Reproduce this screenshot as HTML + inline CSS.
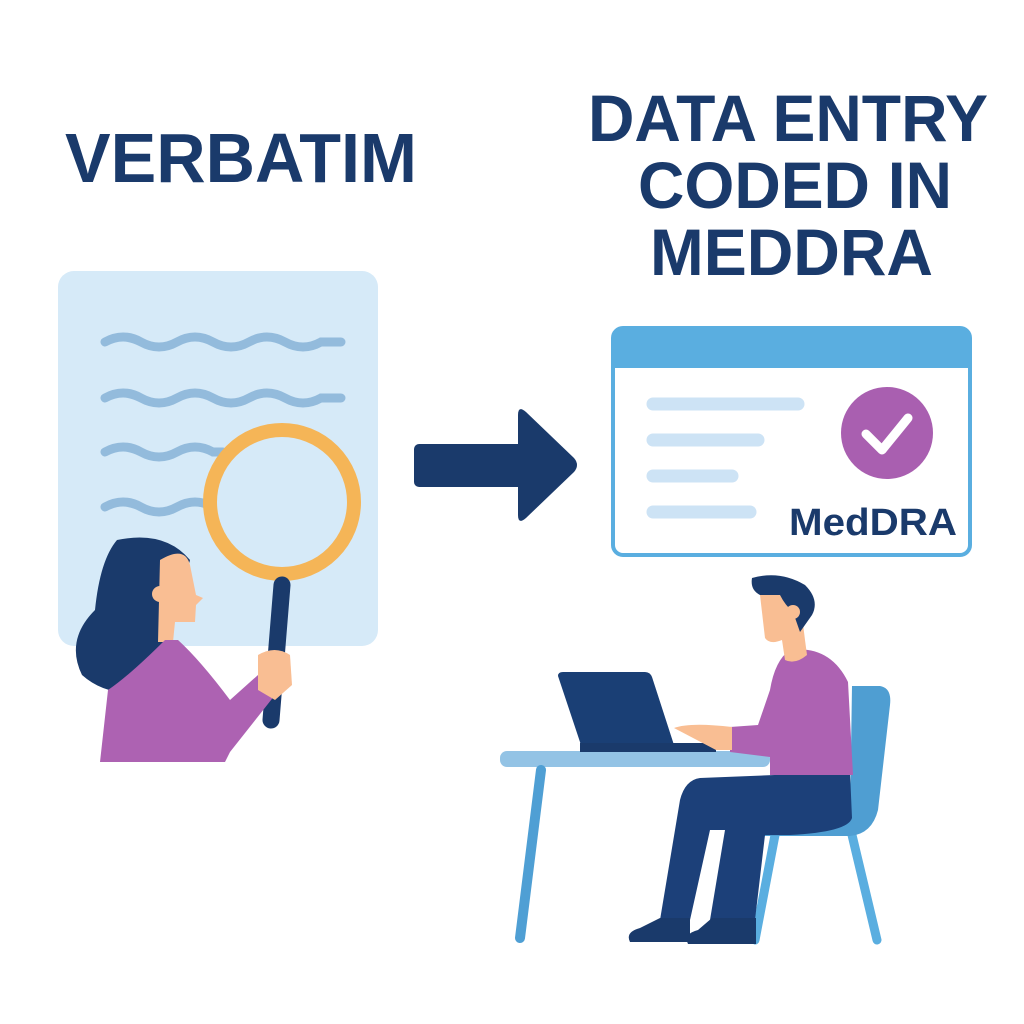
<!DOCTYPE html>
<html><head><meta charset="utf-8"><style>html,body{margin:0;padding:0;background:#fff}svg{display:block}</style></head>
<body>
<svg width="1024" height="1024" viewBox="0 0 1024 1024" xmlns="http://www.w3.org/2000/svg">
<rect width="1024" height="1024" fill="#fff"/>
<g font-family="Liberation Sans, sans-serif" font-weight="bold" fill="#1a3a6b">
<text x="65" y="182" font-size="70" textLength="352" lengthAdjust="spacingAndGlyphs">VERBATIM</text>
<text x="588" y="141" font-size="66" textLength="400" lengthAdjust="spacingAndGlyphs">DATA ENTRY</text>
<text x="638" y="208" font-size="66" textLength="314" lengthAdjust="spacingAndGlyphs">CODED IN</text>
<text x="650" y="275" font-size="66" textLength="283" lengthAdjust="spacingAndGlyphs">MEDDRA</text>
</g>
<!-- document -->
<rect x="58" y="271" width="320" height="375" rx="16" fill="#d6eaf8"/>
<g fill="none" stroke="#93bbdc" stroke-width="9" stroke-linecap="round">
<path d="M105 342 q18 -10 36 0 t36 0 t36 0 t36 0 t36 0 t36 0 l20 0"/>
<path d="M105 398 q18 -10 36 0 t36 0 t36 0 t36 0 t36 0 t36 0 l20 0"/>
<path d="M105 452 q18 -10 36 0 t36 0 t36 0 l10 0"/>
<path d="M105 507 q18 -10 36 0 t36 0 t36 0"/>
</g>
<!-- magnifier -->
<circle cx="282" cy="502" r="72" fill="#d6eaf8" stroke="#f5b557" stroke-width="14"/>
<path d="M282 585 L271 720" stroke="#1a3a6b" stroke-width="17" stroke-linecap="round"/>
<!-- woman -->
<path d="M117 540 Q165 530 190 560 L175 620 Q165 660 155 690 Q110 700 82 675 Q65 640 95 610 Q100 560 117 540Z" fill="#1a3a6b"/>
<path d="M160 560 Q185 545 190 565 L196 595 L203 598 L196 605 L195 622 L175 622 L173 642 L158 642 Z" fill="#f9be93"/>
<circle cx="160" cy="594" r="8" fill="#f9be93"/>
<path d="M100 762 L108 690 Q130 675 165 640 L178 640 Q200 660 230 700 L258 675 L275 695 L230 752 L225 762 Z" fill="#ad62b2"/>
<path d="M258 655 Q275 645 290 655 L292 685 L275 700 L258 690 Z" fill="#f9be93"/>
<!-- arrow -->
<rect x="414" y="444" width="110" height="43" rx="5" fill="#1a3a6b"/>
<path d="M518 415 Q518 405 526 412 L574 458 Q580 465 574 472 L526 518 Q518 525 518 515 Z" fill="#1a3a6b"/>
<!-- window -->
<rect x="613" y="328" width="357" height="227" rx="10" fill="#fff" stroke="#5aaee0" stroke-width="4"/>
<path d="M613 338 Q613 328 623 328 L960 328 Q970 328 970 338 L970 368 L613 368 Z" fill="#5aaee0"/>
<g stroke="#cde3f5" stroke-width="13" stroke-linecap="round">
<line x1="653" y1="404" x2="798" y2="404"/><line x1="653" y1="440" x2="758" y2="440"/>
<line x1="653" y1="476" x2="732" y2="476"/><line x1="653" y1="512" x2="750" y2="512"/>
</g>
<circle cx="887" cy="433" r="46" fill="#a95fb0"/>
<path d="M866 434 L882 450 L908 418" fill="none" stroke="#fff" stroke-width="9" stroke-linecap="round" stroke-linejoin="round"/>
<text x="789" y="535" font-family="Liberation Sans, sans-serif" font-weight="bold" font-size="38" fill="#1a3a6b" textLength="168" lengthAdjust="spacingAndGlyphs">MedDRA</text>
<!-- chair -->
<path d="M775 835 L755 940" stroke="#5aaee0" stroke-width="9" stroke-linecap="round"/>
<path d="M852 835 L877 940" stroke="#5aaee0" stroke-width="9" stroke-linecap="round"/>
<path d="M852 686 L880 686 Q892 688 890 705 L878 810 Q872 834 850 836 L748 836 L748 818 L850 818 Z" fill="#4f9ed2"/>
<!-- table -->
<rect x="500" y="751" width="270" height="16" rx="7" fill="#93c3e5"/>
<path d="M541 770 L520 938" stroke="#4f9fd4" stroke-width="10" stroke-linecap="round"/>
<!-- laptop -->
<path d="M558 676 Q558 672 563 672 L645 672 Q650 672 652 677 L674 745 L583 751 Z" fill="#1a3f75"/>
<rect x="580" y="743" width="136" height="9" fill="#1a3a6b"/>
<!-- man -->
<path d="M700 778 L850 772 L852 818 Q848 832 790 835 L765 835 L755 920 L710 920 L725 830 L710 830 L690 920 L660 920 L680 800 Q685 780 700 778Z" fill="#1c4079"/>
<path d="M660 918 L690 918 L690 942 L630 942 Q625 932 640 928Z" fill="#1a3a6b"/>
<path d="M712 918 L756 918 L756 944 L688 944 Q683 934 698 930Z" fill="#1a3a6b"/>
<path d="M790 650 Q830 645 848 682 L853 775 L770 775 L770 757 L730 752 L730 727 L758 725 L770 690 Q775 660 790 650Z" fill="#ad62b2"/>
<path d="M674 728 Q690 722 732 727 L732 750 L716 750 Z" fill="#f9be93"/>
<path d="M760 595 Q780 590 800 600 L805 640 L807 655 Q795 665 785 660 L782 640 Q770 645 765 638 Z" fill="#f9be93"/>
<path d="M752 578 Q780 570 805 585 Q820 600 812 615 L800 632 L793 612 Q785 605 780 595 L760 595 Q750 590 752 578Z" fill="#1a3a6b"/>
<circle cx="793" cy="612" r="7" fill="#f9be93"/>
</svg>
</body></html>
